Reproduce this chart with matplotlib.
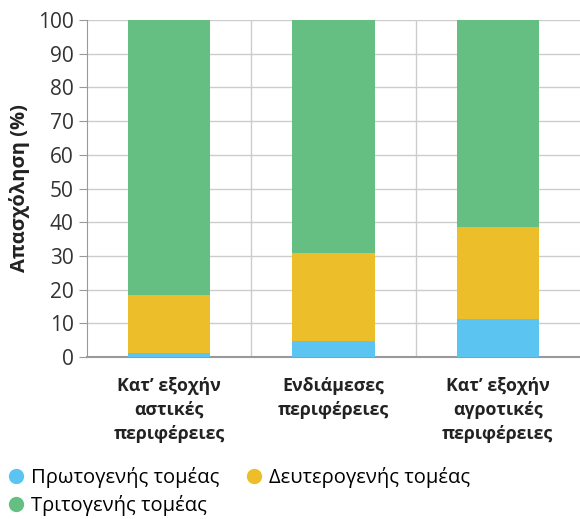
import numpy as np
import matplotlib
import matplotlib.pyplot as plt
from matplotlib.lines import Line2D

matplotlib.use('Agg')
plt.rcParams['font.family'] = ['Open Sans', 'DejaVu Sans']

categories = ["Κατ’ εξοχήν\nαστικές\nπεριφέρειες", "Ενδιάμεσες\nπεριφέρειες",
              "Κατ’ εξοχήν\nαγροτικές\nπεριφέρειες"]
primary = [1.1, 4.7, 11.2]
secondary = [17.4, 26.2, 27.4]
tertiary = [81.5, 69.1, 61.4]
series_names = ["Πρωτογενής τομέας", "Δευτερογενής τομέας", "Τριτογενής τομέας"]
colors = ["#5BC4F0", "#EBBE2A", "#65BF82"]

fig = plt.figure(figsize=(5.8, 5.19), dpi=100)
ax = fig.add_axes([0.15, 0.312, 0.85, 0.6495])

x = np.arange(len(categories))
bottom = np.zeros(len(categories))
for vals, c in zip([primary, secondary, tertiary], colors):
    ax.bar(x, vals, width=0.5, bottom=bottom, color=c, zorder=3)
    bottom += np.array(vals)

ax.set_xlim(-0.5, 2.5)
ax.set_ylim(0, 100)
ax.set_yticks(np.arange(0, 101, 10))
ax.yaxis.grid(True, color="#cccccc", lw=1, zorder=0)
for xv in [0.5, 1.5]:
    ax.axvline(xv, color="#cccccc", lw=1, zorder=0)
ax.set_xticks(x)
ax.set_xticklabels(categories, fontweight="bold", fontsize=12.8, color="#222222",
                   linespacing=1.45)
ax.tick_params(axis="x", length=0, pad=14)
ax.tick_params(axis="y", colors="#333333", labelsize=15, length=6, color="#999999")
for s in ["top", "right"]:
    ax.spines[s].set_visible(False)
ax.spines["left"].set_color("#999999")
ax.spines["bottom"].set_color("#999999")
ax.spines["bottom"].set_linewidth(1.5)
ax.set_ylabel("Απασχόληση (%)", fontsize=14.5, fontweight="bold", color="#222222",
              labelpad=6)

# row-major order: first, second on top row, third below
order = [0, 2, 1]
handles = [Line2D([], [], marker="o", ls="", color=colors[i], markersize=10) for i in order]
labels = [series_names[i] for i in order]
fig.legend(handles, labels, loc="lower left", bbox_to_anchor=(-0.01, -0.022),
           ncol=2, frameon=False, fontsize=14.5, handlelength=0.8, handletextpad=0.35,
           columnspacing=1.3, labelspacing=0.35, borderpad=0.2)

fig.savefig("out.png", dpi=100)
